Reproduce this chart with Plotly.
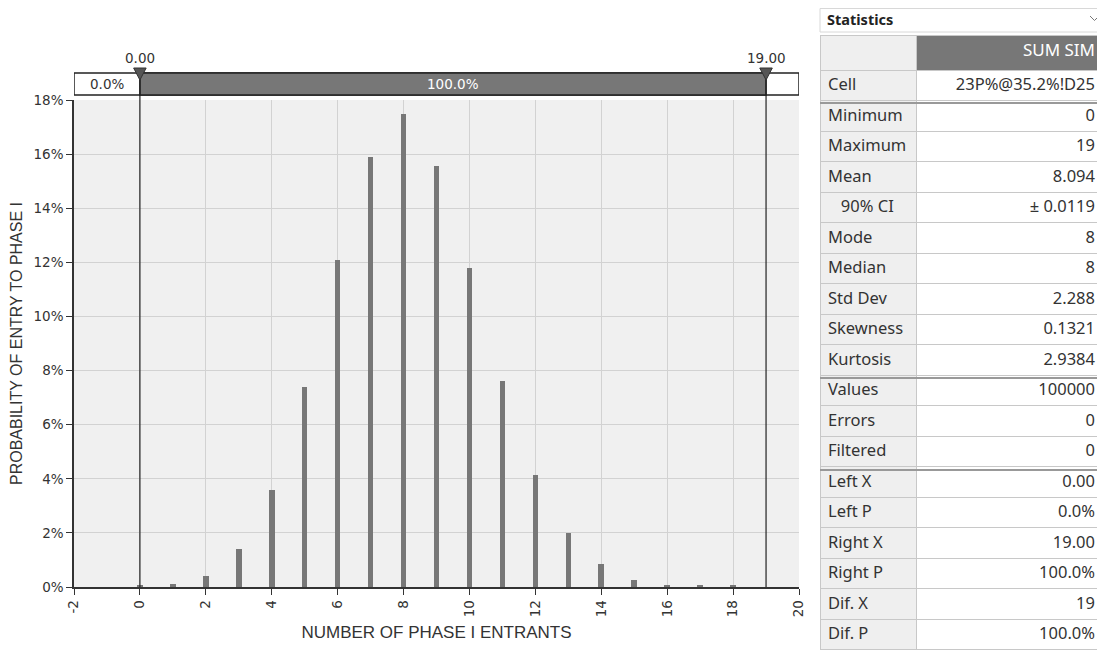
import plotly.graph_objects as go

# ---------------- data ----------------
entrants = list(range(0, 20))
probability_pct = [0.05, 0.1, 0.4, 1.4, 3.6, 7.4, 12.1, 15.9, 17.5, 15.55,
                   11.8, 7.6, 4.15, 2.0, 0.85, 0.25, 0.07, 0.05, 0.04, 0.0]
y_ticks = [0, 2, 4, 6, 8, 10, 12, 14, 16, 18]
y_tick_text = [f"{v}%" for v in y_ticks]
x_ticks = list(range(-2, 21, 2))
left_x, right_x = 0.0, 19.0
left_p_label, mid_p_label = "0.0%", "100.0%"

stat_labels = ["Cell", "Minimum", "Maximum", "Mean", "\u00a0\u00a0\u00a090% CI", "Mode", "Median",
               "Std Dev", "Skewness", "Kurtosis", "Values", "Errors", "Filtered",
               "Left X", "Left P", "Right X", "Right P", "Dif. X", "Dif. P"]
stat_values = ["23P%@35.2%!D25", "0", "19", "8.094", "\u00b1 0.0119", "8", "8",
               "2.288", "0.1321", "2.9384", "100000", "0", "0",
               "0.00", "0.0%", "19.00", "100.0%", "19", "100.0%"]
series_name = "SUM SIM"

OFF = 8  # page body margin
W, H = 1105 - OFF, 655 - OFF
def py(pix):  # pixel y (page) -> paper fraction
    return 1 - (pix - OFF) / H
def px(pix):
    return (pix - OFF) / W

BAR = "#777777"
TXT = "#333333"
fig = go.Figure()
fig.add_trace(go.Bar(x=entrants, y=probability_pct, width=0.17,
                     marker=dict(color=BAR, line=dict(width=0)), showlegend=False))

# ---------------- statistics table ----------------
fig.add_trace(go.Table(
    domain=dict(x=[px(820), px(1103)], y=[0, py(35)]),
    columnwidth=[96, 187],
    header=dict(values=["", series_name],
                fill=dict(color=["#efefef", "#777777"]),
                line=dict(color="#c8c8c8", width=1),
                align=["left", "right"],
                font=dict(family="Noto Sans", size=17, color=[TXT, "#ffffff"]),
                height=35),
    cells=dict(values=[stat_labels, stat_values],
               fill=dict(color=["#efefef", "#ffffff"]),
               line=dict(color="#c8c8c8", width=1),
               align=["left", "right"],
               font=dict(family="Noto Sans", size=16.5, color=TXT),
               height=30.5),
))

shapes = []
annotations = []
# Statistics title bar
shapes.append(dict(type="rect", xref="paper", yref="paper", x0=px(820), x1=px(1103),
                   y0=py(32), y1=py(8.5), line=dict(color="#d8d8d8", width=1), fillcolor="white"))
annotations.append(dict(xref="paper", yref="paper", x=px(825), y=py(19), text="<b>Statistics</b>",
                        showarrow=False, xanchor="left", yanchor="middle",
                        font=dict(family="Noto Sans", size=14.5, color="#222222")))
shapes.append(dict(type="path", xref="paper", yref="paper",
                   path=f"M {px(1090)},{py(16)} L {px(1094.5)},{py(20.5)} L {px(1099)},{py(16)}",
                   line=dict(color="#777777", width=1)))
# thicker group separators in table
for pix in [103, 378, 470]:
    shapes.append(dict(type="line", xref="paper", yref="paper", x0=px(820), x1=px(1103),
                       y0=py(pix), y1=py(pix), line=dict(color="#999999", width=2), layer="above"))

# ---------------- top range bar ----------------
bar_top, bar_bot = py(73), py(95)
shapes.append(dict(type="rect", xref="x", yref="paper", x0=-2, x1=20, y0=bar_bot, y1=bar_top,
                   line=dict(color="#222222", width=1.5), fillcolor="white"))
shapes.append(dict(type="rect", xref="x", yref="paper", x0=left_x, x1=right_x, y0=bar_bot, y1=bar_top,
                   line=dict(color="#222222", width=1.5), fillcolor="#777777"))
annotations.append(dict(xref="x", yref="paper", x=(left_x + -2) / 2, y=(bar_top + bar_bot) / 2,
                        text=left_p_label, showarrow=False, yanchor="middle",
                        font=dict(family="DejaVu Sans", size=13.5, color=TXT)))
annotations.append(dict(xref="x", yref="paper", x=(left_x + right_x) / 2, y=(bar_top + bar_bot) / 2,
                        text=mid_p_label, showarrow=False, yanchor="middle",
                        font=dict(family="DejaVu Sans", size=13.5, color="#ffffff")))
for xv in [left_x, right_x]:
    shapes.append(dict(type="line", xref="x", yref="paper", x0=xv, x1=xv,
                       y0=py(587), y1=py(80), line=dict(color="#222222", width=1.2), layer="above"))
    shapes.append(dict(type="path", xref="x", yref="paper",
                       path=f"M {xv-0.19},{py(68)} L {xv+0.19},{py(68)} L {xv},{py(80)} Z",
                       fillcolor="#555555", line=dict(color="#333333", width=1)))
    annotations.append(dict(xref="x", yref="paper", x=xv, y=py(58), text=f"{xv:.2f}",
                            showarrow=False, yanchor="middle",
                            font=dict(family="DejaVu Sans", size=13.5, color=TXT)))

fig.update_layout(
    width=W, height=H, margin=dict(l=0, r=0, t=0, b=0, autoexpand=False),
    paper_bgcolor="white", plot_bgcolor="#f0f0f0",
    shapes=shapes, annotations=annotations, bargap=0,
    xaxis=dict(domain=[px(74), px(799)], range=[-2, 20], tickvals=x_ticks,
               ticktext=[str(v) for v in x_ticks], tickangle=-90, automargin=False,
               showgrid=True, gridcolor="#d2d2d2", gridwidth=1, zeroline=False,
               showline=True, linecolor="#333333", linewidth=1.5,
               ticks="outside", ticklen=6, tickcolor="#333333",
               tickfont=dict(family="DejaVu Sans", size=13.5, color=TXT),
               title=dict(text="NUMBER OF PHASE I ENTRANTS", standoff=10,
                          font=dict(family="Liberation Sans", size=17, color=TXT))),
    yaxis=dict(domain=[py(587), py(100)], range=[0, 18], tickvals=y_ticks, ticktext=y_tick_text,
               automargin=False,
               showgrid=True, gridcolor="#d2d2d2", gridwidth=1, zeroline=False,
               showline=True, linecolor="#333333", linewidth=1.5,
               ticks="outside", ticklen=6, tickcolor="#333333",
               tickfont=dict(family="DejaVu Sans", size=13.5, color=TXT),
               title=dict(text="PROBABILITY OF ENTRY TO PHASE I", standoff=8,
                          font=dict(family="Liberation Sans", size=16, color=TXT))),
)

fig.write_html("out.html")
